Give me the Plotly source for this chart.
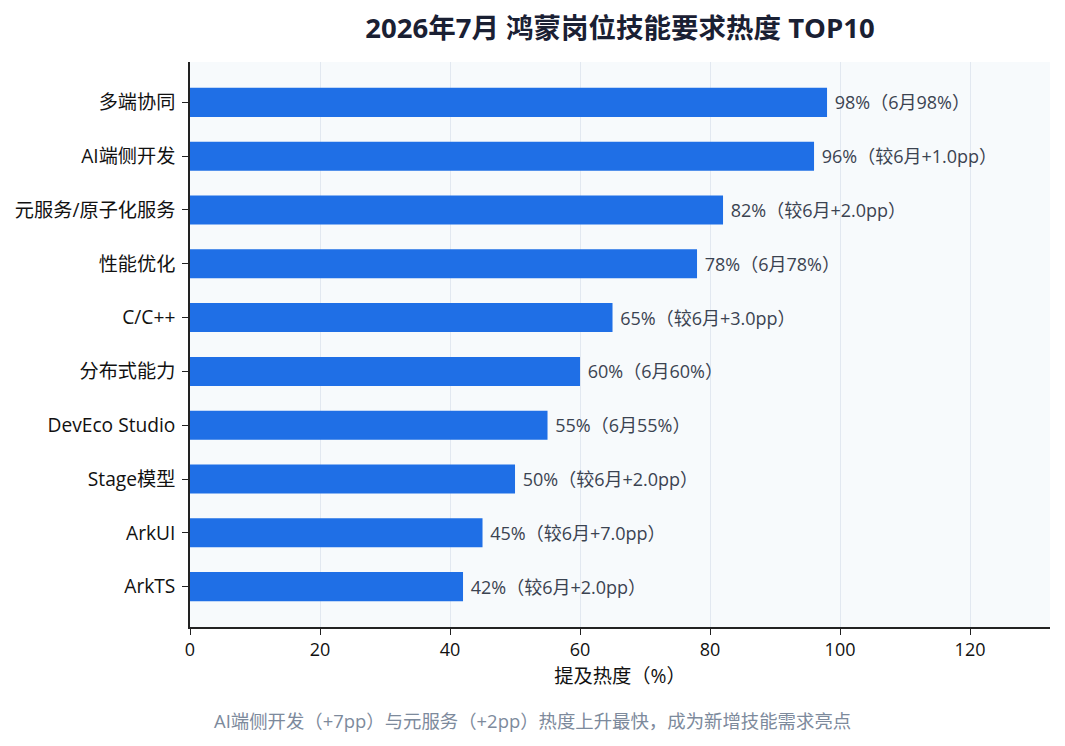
import plotly.graph_objs as go

# 技能类目与热度数据（2026年7月 vs 6月）
skills = ['多端协同', 'AI端侧开发', '元服务/原子化服务', '性能优化', 'C/C++',
          '分布式能力', 'DevEco Studio', 'Stage模型', 'ArkUI', 'ArkTS']
july = [98, 96, 82, 78, 65, 60, 55, 50, 45, 42]
june = [98, 95, 80, 78, 62, 60, 55, 48, 38, 40]
x_ticks = [0, 20, 40, 60, 80, 100, 120]

FONT = 'Open Sans, Noto Sans CJK SC, sans-serif'


def make_label(cur, prev):
    diff = cur - prev
    if diff == 0:
        return f' {cur}%（6月{prev}%）'
    return f' {cur}%（较6月{diff:+.1f}pp）'


labels = [make_label(c, p) for c, p in zip(july, june)]

fig = go.Figure(
    data=[
        go.Bar(
            x=july,
            y=skills,
            orientation='h',
            width=0.54,
            marker=dict(color='#1f6fe6', line=dict(width=0)),
            text=labels,
            textposition='outside',
            cliponaxis=False,
            textfont=dict(size=18, color='#3b4351', family=FONT),
        )
    ]
)

fig.update_layout(
    width=1057,
    height=738,
    margin=dict(l=182, r=15, t=54, b=119, autoexpand=False),
    paper_bgcolor='white',
    plot_bgcolor='#f7fafc',
    font=dict(family=FONT, size=18, color='#111111'),
    showlegend=False,
    title=dict(
        text='<b>2026年7月 鸿蒙岗位技能要求热度 TOP10</b>',
        xref='paper', x=0.5, xanchor='center',
        y=0.973, yanchor='middle',
        font=dict(size=27.5, color='#1a2033', family=FONT),
    ),
    annotations=[
        dict(
            text='AI端侧开发（+7pp）与元服务（+2pp）热度上升最快，成为新增技能需求亮点',
            xref='paper', yref='paper', x=0.3977, y=-0.165,
            xanchor='center', yanchor='middle', showarrow=False,
            font=dict(size=18.4, color='#7d8a9c', family=FONT),
        )
    ],
)

fig.update_xaxes(
    range=[0, max(july) * 1.35],
    tickvals=x_ticks,
    showgrid=True, gridcolor='#e2e8f0', gridwidth=1,
    showline=True, linecolor='#222222', linewidth=1.5,
    ticks='outside', ticklen=6, tickcolor='#222222',
    tickfont=dict(size=18, color='#111111'),
    zeroline=False,
    automargin=False,
    title=dict(text='提及热度（%）', font=dict(size=19.3, color='#111111'), standoff=9),
)

fig.update_yaxes(
    autorange=False,
    range=[9.75, -0.75],
    showgrid=False,
    showline=True, linecolor='#222222', linewidth=1.5,
    ticks='outside', ticklen=6, tickcolor='#222222',
    tickfont=dict(size=19.2, color='#111111'),
    ticklabelstandoff=3,
    automargin=False,
)

fig.write_html('out.html')
